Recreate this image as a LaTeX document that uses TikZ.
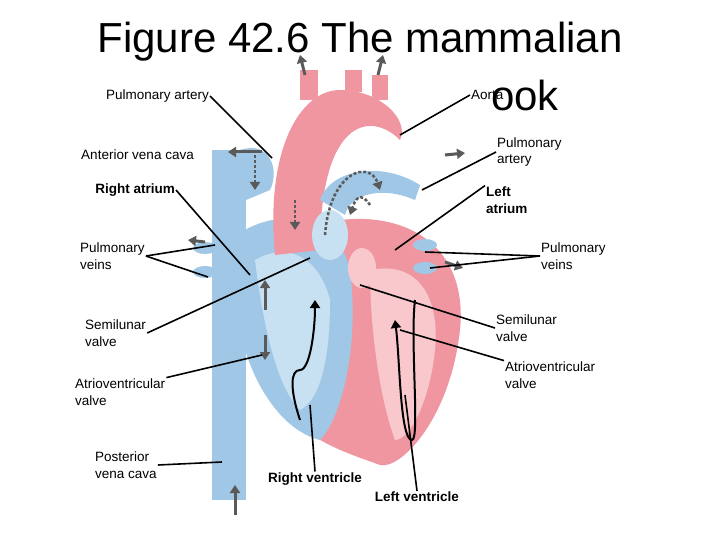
\documentclass[tikz,border=0pt]{standalone}
\usepackage{fontspec}
\setmainfont{Liberation Sans}
\usetikzlibrary{arrows.meta}
\definecolor{pinkh}{RGB}{240,150,160}
\definecolor{pinkl}{RGB}{248,200,205}
\definecolor{blueh}{RGB}{160,200,230}
\definecolor{bluel}{RGB}{200,225,242}
\definecolor{grayar}{RGB}{90,90,90}
\begin{document}
\begin{tikzpicture}[x=1pt,y=-1pt,
  lab/.style={font=\fontsize{13.5}{16.5}\selectfont,align=left,inner sep=1pt},
  blab/.style={lab,font=\fontsize{13.5}{16.5}\selectfont\bfseries},
  lead/.style={line width=1.6pt},
  flow/.style={grayar,line width=3pt,-{Triangle[length=8pt,width=10pt]}}]
\useasboundingbox (0,0) rectangle (720,540);
% heart body
\fill[pinkh] (300,230) .. controls (380,200) and (470,230) .. (460,330) .. controls (450,420) and (400,470) .. (380,465) .. controls (340,450) and (260,430) .. (250,330) -- cycle;
\fill[blueh] (230,240) .. controls (280,200) and (340,220) .. (350,270) .. controls (360,350) and (340,420) .. (320,440) .. controls (280,430) and (250,380) .. (240,330) -- cycle;
\fill[bluel] (255,260) .. controls (290,240) and (320,260) .. (330,300) .. controls (330,360) and (320,400) .. (300,410) .. controls (280,390) and (265,340) .. (255,260);
\fill[pinkl] (370,270) .. controls (420,260) and (440,300) .. (435,350) .. controls (430,400) and (410,440) .. (395,440) .. controls (380,400) and (370,330) .. (370,270);
% vena cava
\fill[blueh] (212,150) rectangle (246,500);
\fill[blueh] (240,150) .. controls (270,140) and (280,170) .. (270,190) -- (246,200) -- cycle;
% aorta & pulmonary
\fill[pinkh] (275,255) .. controls (265,150) and (300,90) .. (340,90) .. controls (380,90) and (410,120) .. (400,140) .. controls (370,110) and (320,120) .. (320,250) -- cycle;
\fill[pinkh] (300,100) rectangle (318,70);
\fill[pinkh] (345,92) rectangle (362,70);
\fill[pinkh] (372,100) rectangle (388,75);
\fill[blueh] (320,200) .. controls (330,170) and (380,160) .. (420,185) -- (415,200) .. controls (380,185) and (350,195) .. (345,215) -- cycle;
\fill[bluel] (330,235) ellipse (18 and 25);
\fill[pinkl] (362,268) ellipse (14 and 20);
\fill[blueh] (205,248) ellipse (12 and 6);
\fill[blueh] (205,272) ellipse (12 and 6);
\fill[blueh] (425,245) ellipse (12 and 6);
\fill[blueh] (425,268) ellipse (12 and 6);
% flow arrows
\draw[flow] (305,75) -- (300,55);
\draw[flow] (378,75) -- (383,55);
\draw[flow] (262,152) -- (228,152);
\draw[flow] (445,155) -- (465,153);
\draw[flow] (205,242) -- (188,240);
\draw[flow] (445,262) -- (463,268);
\draw[flow] (235,515) -- (235,485);
\draw[flow,dotted,line width=2.5pt] (255,155) -- (255,190);
\draw[flow,dotted,line width=2.5pt] (295,200) -- (295,230);
\draw[flow,dotted,line width=2.5pt] (325,235) .. controls (330,170) and (370,160) .. (380,190);
\draw[flow,dotted,line width=2.5pt] (370,205) .. controls (360,190) and (355,200) .. (350,215);
\draw[flow] (265,310) -- (265,280);
\draw[flow] (265,335) -- (265,360);
\draw[flow,black,line width=2pt] (300,420) .. controls (290,390) and (290,370) .. (300,370) .. controls (310,370) and (315,330) .. (315,300);
\draw[flow,black,line width=2pt] (415,300) .. controls (410,340) and (420,440) .. (412,440) .. controls (400,440) and (400,360) .. (395,320);
% title
\node[font=\fontsize{42}{46}\selectfont,inner sep=0pt] (title) at (360,42) {Figure 42.6 The mammalian};
\node[font=\fontsize{42}{46}\selectfont,inner sep=0pt] (ook) at (525,95) {ook};
% labels
\node[lab,anchor=east] (pa1) at (210,96) {Pulmonary artery};
\node[lab,anchor=west] (ao) at (470,95) {Aorta};
\node[lab,anchor=east] (avc) at (195,155) {Anterior vena cava};
\node[lab,anchor=west] (pa2) at (496,152) {Pulmonary\\artery};
\node[blab,anchor=east] (ra) at (176,190) {Right atrium};
\node[blab,anchor=west] (la) at (485,200) {Left\\atrium};
\node[lab,anchor=west] (pv1) at (79,256) {Pulmonary\\veins};
\node[lab,anchor=west] (pv2) at (540,256) {Pulmonary\\veins};
\node[lab,anchor=west] (sv1) at (84,333) {Semilunar\\valve};
\node[lab,anchor=west] (sv2) at (495,328) {Semilunar\\valve};
\node[lab,anchor=west] (av2) at (504,375) {Atrioventricular\\valve};
\node[lab,anchor=west] (av1) at (74,392) {Atrioventricular\\valve};
\node[lab,anchor=west] (pvc) at (94,465) {Posterior\\ vena cava};
\node[blab] (rv) at (315,479) {Right ventricle};
\node[blab] (lv) at (417,497) {Left ventricle};
% leader lines
\coordinate (c1) at (272,158); \coordinate (c2) at (400,135);
\coordinate (c3) at (422,190); \coordinate (c4) at (395,250);
\coordinate (c5) at (250,275); \coordinate (c6) at (215,245);
\coordinate (c7) at (208,277); \coordinate (c8) at (425,252);
\coordinate (c9) at (430,268); \coordinate (c10) at (310,258);
\coordinate (c11) at (360,285); \coordinate (c12) at (400,330);
\coordinate (c13) at (262,355); \coordinate (c14) at (222,462);
\coordinate (c15) at (310,405); \coordinate (c16) at (405,395);
\draw[lead] (pa1.east) -- (c1);
\draw[lead] (ao.west) -- (c2);
\draw[lead] (pa2.west) -- (c3);
\draw[lead] (la.north west) -- (c4);
\draw[lead] (ra.east) -- (c5);
\draw[lead] (pv1.east) -- (c6);
\draw[lead] (pv1.east) -- (c7);
\draw[lead] (pv2.west) -- (c8);
\draw[lead] (pv2.west) -- (c9);
\draw[lead] (sv1.east) -- (c10);
\draw[lead] (sv2.west) -- (c11);
\draw[lead] (av2.north west) -- (c12);
\draw[lead] (av1.north east) -- (c13);
\draw[lead] (pvc.east) -- (c14);
\draw[lead] (rv.north) -- (c15);
\draw[lead] (lv.north) -- (c16);
\end{tikzpicture}
\end{document}
